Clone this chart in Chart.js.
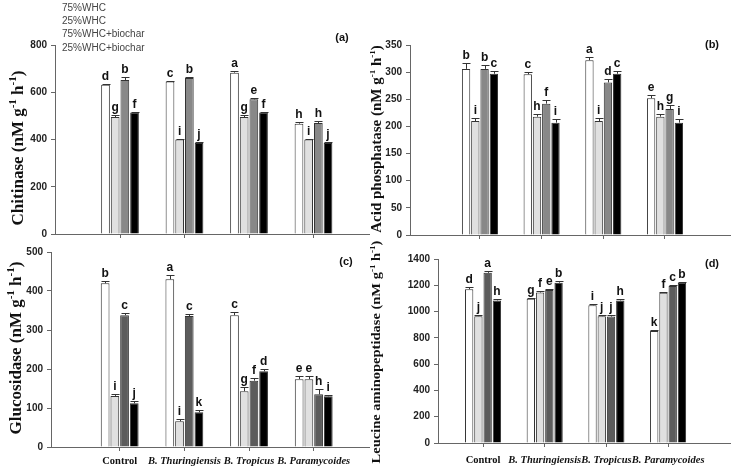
<!DOCTYPE html>
<html>
<head>
<meta charset="utf-8">
<script src="https://cdn.jsdelivr.net/npm/chart.js@4.4.0/dist/chart.umd.min.js"></script>
<style>
body { margin: 0; background: #fff; }
#wrap { position: relative; width: 731px; height: 466px; }
canvas { position: absolute; }
</style>
</head>
<body>
<div id="wrap">
  <canvas id="ca" width="370" height="240" style="left:0;top:0"></canvas>
  <canvas id="cb" width="361" height="240" style="left:370px;top:0"></canvas>
  <canvas id="cc" width="370" height="226" style="left:0;top:240px"></canvas>
  <canvas id="cd" width="361" height="226" style="left:370px;top:240px"></canvas>
</div>
<script>
// treatments on the x axis and the four moisture / biochar series
var categories = ['Control', 'B. Thuringiensis', 'B. Tropicus', 'B. Paramycoides'];
var series = ['75%WHC', '25%WHC', '75%WHC+biochar', '25%WHC+biochar'];

// (a) chitinase, one row per series
var chitinase = [[632, 645, 683, 467], [495, 400, 495, 400], [652, 660, 570, 470], [514, 385, 514, 385]];
var chitinaseErr = [[5, 3, 6, 5], [8, 4, 8, 3], [11, 5, 4, 7], [3, 6, 3, 3]];
var chitinaseLetters = [['d', 'c', 'a', 'h'], ['g', 'i', 'g', 'i'], ['b', 'b', 'e', 'h'], ['f', 'j', 'f', 'j']];
var chitinaseTicks = [0, 200, 400, 600, 800];

// (b) acid phosphatase
var acidP = [[306, 296, 322, 252], [210, 218, 210, 218], [306, 242, 281, 232], [297, 207, 297, 207]];
var acidPErr = [[11, 5, 5, 5], [5, 4, 5, 4], [7, 6, 6, 7], [5, 6, 5, 6]];
var acidPLetters = [['b', 'c', 'a', 'e'], ['i', 'h', 'i', 'h'], ['b', 'f', 'd', 'g'], ['c', 'i', 'c', 'i']];
var acidPTicks = [0, 50, 100, 150, 200, 250, 300, 350];

// (c) glucosidase
var glucosidase = [[420, 430, 338, 174], [131, 66, 143, 174], [338, 336, 170, 135], [112, 89, 194, 130]];
var glucosidaseErr = [[6, 10, 8, 7], [5, 6, 12, 7], [6, 5, 6, 15], [7, 6, 5, 4]];
var glucosidaseLetters = [['b', 'a', 'c', 'e'], ['i', 'i', 'g', 'e'], ['c', 'c', 'f', 'h'], ['j', 'k', 'd', 'i']];
var glucosidaseTicks = [0, 100, 200, 300, 400, 500];

// (d) leucine aminopeptidase
var leucine = [[1170, 1097, 1048, 852], [965, 1145, 965, 1143], [1295, 1165, 962, 1195], [1085, 1220, 1085, 1220]];
var leucineErr = [[15, 10, 12, 8], [8, 8, 8, 8], [10, 8, 15, 10], [10, 12, 10, 8]];
var leucineLetters = [['d', 'g', 'i', 'k'], ['j', 'f', 'j', 'f'], ['a', 'e', 'j', 'c'], ['h', 'b', 'h', 'b']];
var leucineTicks = [0, 200, 400, 600, 800, 1000, 1200, 1400];

var SANS = '"Liberation Sans", Arial, sans-serif';
var SERIF = '"Liberation Serif", "Times New Roman", serif';
var panels = {};

function unitTitle(name) {
  return [[name + ' (nM g', 0], ['-1', 1], [' h', 0], ['-1', 1], [')', 0]];
}

// rotated axis title with raised "-1" parts; squash < 1 flattens the glyphs
function drawTitle(ctx, parts, cx, cy, size, squash) {
  var big = 'bold ' + size + 'px ' + SERIF;
  var small = 'bold ' + Math.round(size * 0.62) + 'px ' + SERIF;
  var w = 0;
  parts.forEach(function (p) { ctx.font = p[1] ? small : big; w += ctx.measureText(p[0]).width; });
  ctx.save();
  ctx.translate(cx, cy);
  ctx.rotate(-Math.PI / 2);
  ctx.scale(1, squash || 1);
  ctx.fillStyle = '#111';
  ctx.textBaseline = 'alphabetic';
  ctx.textAlign = 'left';
  var x = -w / 2;
  parts.forEach(function (p) {
    ctx.font = p[1] ? small : big;
    var y = p[1] ? size * 0.35 - size * 0.42 : size * 0.35;
    ctx.fillText(p[0], x, y);
    x += ctx.measureText(p[0]).width;
  });
  ctx.restore();
}

var deco = {
  id: 'deco',
  afterDatasetsDraw: function (chart) {
    var ctx = chart.ctx, ys = chart.scales.y;
    ctx.save();
    chart.data.datasets.forEach(function (ds, i) {
      var meta = chart.getDatasetMeta(i);
      meta.data.forEach(function (bar, j) {
        var top = ys.getPixelForValue(ds.data[j].y + ds.errors[j]);
        var x = Math.round(bar.x) + 0.5;
        var ty = Math.round(top) + 0.5;
        ctx.strokeStyle = '#333';
        ctx.lineWidth = 1;
        ctx.beginPath();
        ctx.moveTo(x, bar.y);
        ctx.lineTo(x, ty);
        ctx.moveTo(x - 4, ty);
        ctx.lineTo(x + 4, ty);
        ctx.stroke();
        ctx.fillStyle = '#111';
        ctx.font = 'bold 12px ' + SANS;
        ctx.textAlign = 'center';
        ctx.textBaseline = 'alphabetic';
        ctx.fillText(ds.letters[j], bar.x, top - 4);
      });
    });
    ctx.restore();
  },
  afterDraw: function (chart) {
    var o = panels[chart.canvas.id];
    if (!o) return;
    var ctx = chart.ctx;
    drawTitle(ctx, o.title, o.titleX, o.titleY, o.titleSize, o.squash);
    ctx.save();
    ctx.fillStyle = '#111';
    ctx.font = 'bold 11px ' + SANS;
    ctx.textAlign = 'center';
    ctx.textBaseline = 'middle';
    ctx.fillText(o.tag, o.tagX, o.tagY);
    if (o.legend) {
      ctx.font = '10px ' + SANS;
      ctx.fillStyle = '#444';
      ctx.textAlign = 'left';
      ctx.textBaseline = 'top';
      chart.data.datasets.forEach(function (ds, i) {
        ctx.fillText(ds.label, 62, 3 + i * 13.3);
      });
    }
    ctx.restore();
  }
};

function makePanel(id, vals, errs, letters, ticks, p) {
  panels[id] = p;
  var datasets = series.map(function (name, s) {
    return {
      label: name,
      data: vals[s].map(function (v, i) { return { x: i, y: v }; }),
      errors: errs[s],
      letters: letters[s],
      backgroundColor: p.colors[s],
      borderColor: '#333',
      borderWidth: 1,
      categoryPercentage: 0.6,
      barPercentage: 0.9
    };
  });
  return new Chart(document.getElementById(id), {
    type: 'bar',
    data: { datasets: datasets },
    options: {
      responsive: false,
      animation: false,
      events: [],
      layout: { padding: { top: p.top, left: 0, right: 0, bottom: 0 } },
      plugins: { legend: { display: false }, tooltip: { enabled: false } },
      scales: {
        x: {
          type: 'linear',
          min: p.xMin,
          max: p.xMax,
          offset: false,
          border: { color: '#666' },
          grid: { drawOnChartArea: false, offset: false, tickLength: 4, color: '#666' },
          afterBuildTicks: function (s) { s.ticks = categories.map(function (c, i) { return { value: i }; }); },
          afterFit: function (s) { s.height = p.xh; s.paddingLeft = 0; s.paddingRight = 0; },
          ticks: {
            display: p.showX,
            padding: p.xPad,
            color: '#111',
            maxRotation: 0,
            autoSkip: false,
            font: function (c) {
              return { family: SERIF, size: 10.5, weight: 'bold', style: c.index === 0 ? 'normal' : 'italic' };
            },
            callback: function (v) { return categories[v]; }
          }
        },
        y: {
          min: ticks[0],
          max: ticks[ticks.length - 1],
          border: { color: '#666' },
          grid: { drawOnChartArea: false, tickLength: 4, color: '#666' },
          afterBuildTicks: function (s) { s.ticks = ticks.map(function (v) { return { value: v }; }); },
          afterFit: function (s) { s.width = p.yw; s.paddingTop = 0; s.paddingBottom = 0; },
          ticks: {
            color: '#222',
            padding: 4,
            font: { family: SANS, size: 10, weight: 'bold' },
            callback: function (v) { return String(v); }
          }
        }
      }
    },
    plugins: [deco]
  });
}

var lightCols = ['#ffffff', '#e0e0e0', '#888888', '#000000'];
var darkCols = ['#ffffff', '#e0e0e0', '#5c5c5c', '#000000'];

makePanel('ca', chitinase, chitinaseErr, chitinaseLetters, chitinaseTicks, {
  colors: lightCols, top: 45, xh: 6, yw: 55, xMin: -1.008, xMax: 3.876, showX: false, xPad: 4,
  title: unitTitle('Chitinase'), titleX: 17, titleY: 148, titleSize: 17,
  tag: '(a)', tagX: 342, tagY: 38, legend: true
});
makePanel('cb', acidP, acidPErr, acidPLetters, acidPTicks, {
  colors: lightCols, top: 45, xh: 5, yw: 40, xMin: -1.134, xMax: 4.07, showX: false, xPad: 4,
  title: unitTitle('Acid phosphatase'), titleX: 6, titleY: 139, titleSize: 15,
  tag: '(b)', tagX: 342, tagY: 45, legend: false
});
makePanel('cc', glucosidase, glucosidaseErr, glucosidaseLetters, glucosidaseTicks, {
  colors: darkCols, top: 12, xh: 19, yw: 51, xMin: -1.062, xMax: 3.87, showX: true, xPad: 4,
  title: unitTitle('Glucosidase'), titleX: 15, titleY: 108, titleSize: 17,
  tag: '(c)', tagX: 346, tagY: 22, legend: false
});
makePanel('cd', leucine, leucineErr, leucineLetters, leucineTicks, {
  colors: darkCols, top: 19, xh: 23, yw: 68, xMin: -0.73, xMax: 4.02, showX: true, xPad: 7,
  title: unitTitle('Leucine aminopeptidase'), titleX: 6, titleY: 112, titleSize: 14.5, squash: 0.85,
  tag: '(d)', tagX: 342, tagY: 24, legend: false
});
</script>
</body>
</html>
